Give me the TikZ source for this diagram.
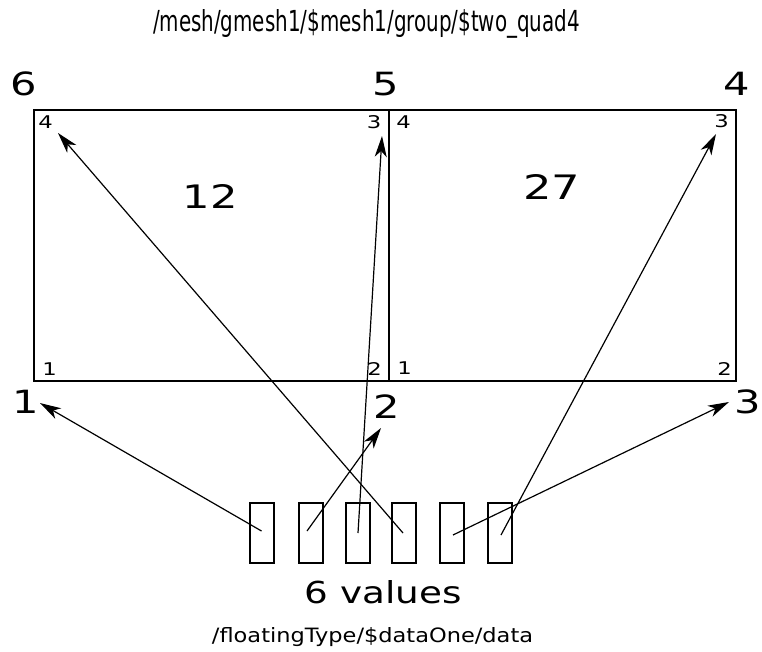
\documentclass[tikz,border=0pt]{standalone}
\usepackage{graphicx}
\usepackage{fontspec}
\setmainfont{DejaVu Sans}
\newfontfamily\widefont[FakeStretch=1.3]{DejaVu Sans}
\usetikzlibrary{arrows.meta}
\begin{document}
\begin{tikzpicture}[x=1pt,y=-1pt,
  elem/.style={draw,line width=2pt},
  valbox/.style={draw,line width=2pt,minimum width=24pt,minimum height=60pt,inner sep=0pt},
  big/.style={font=\widefont\fontsize{32}{32}\selectfont,inner sep=0pt,anchor=base},
  small/.style={font=\widefont\fontsize{17.5}{17.5}\selectfont,inner sep=0pt,anchor=base},
  txt/.style={inner sep=0pt,anchor=base},
  link/.style={line width=1.2pt,-{Stealth[length=21pt,width=12pt,inset=6pt]}}]
\useasboundingbox (0,0) rectangle (762,652);
% title
\node[txt] (title) at (366.5,32) {\resizebox{427pt}{22pt}{/mesh/gmesh1/\$mesh1/group/\$two\_quad4}};
% elements
\draw[elem] (34,110) rectangle (389,381);
\draw[elem] (389,110) rectangle (736,381);
\node[txt] (e12) at (210.5,209) {\resizebox{55pt}{24pt}{12}};
\node[txt] (e27) at (551.5,200) {\resizebox{57pt}{25pt}{27}};
% global node numbers
\node[big] (n6) at (23.5,96) {6};
\node[big] (n5) at (385.5,96) {5};
\node[big] (n4) at (736.5,96) {4};
\node[big] (n1) at (26,413) {1};
\node[big] (n2) at (386.5,418) {2};
\node[big] (n3) at (747.5,413) {3};
% local numbers
\node[small] (a4) at (45.5,129) {4};
\node[small] (a3) at (374,129) {3};
\node[small] (a1) at (49.5,375) {1};
\node[small] (a2) at (374.5,375) {2};
\node[small] (b4) at (403.5,129) {4};
\node[small] (b3) at (721.5,128) {3};
\node[small] (b1) at (404.5,374) {1};
\node[small] (b2) at (724.5,375) {2};
% value boxes
\node[valbox] (v1) at (261.5,532.5) {};
\node[valbox] (v2) at (310.5,532.5) {};
\node[valbox] (v3) at (357.5,532.5) {};
\node[valbox] (v4) at (403.5,532.5) {};
\node[valbox] (v5) at (452,532.5) {};
\node[valbox] (v6) at (500,532.5) {};
\node[txt] (vals) at (383.5,603) {\resizebox{157pt}{23pt}{6 values}};
\node[txt] (path) at (372.5,642) {\resizebox{321pt}{15pt}{/floatingType/\$dataOne/data}};
% arrow tips
\coordinate (t1) at (40,403);
\coordinate (t2) at (381,428);
\coordinate (t3) at (382,136);
\coordinate (t4) at (58,133);
\coordinate (t5) at (729,402);
\coordinate (t6) at (716,134);
\draw[link] ([shift={(0,-1.5)}]v1.center) -- (t1);
\draw[link] ([shift={(-3.5,-1.5)}]v2.center) -- (t2);
\draw[link] ([shift={(0.5,0.5)}]v3.center) -- (t3);
\draw[link] ([shift={(-0.5,0.5)}]v4.center) -- (t4);
\draw[link] ([shift={(1,2.5)}]v5.center) -- (t5);
\draw[link] ([shift={(1,2.5)}]v6.center) -- (t6);
\end{tikzpicture}
\end{document}
